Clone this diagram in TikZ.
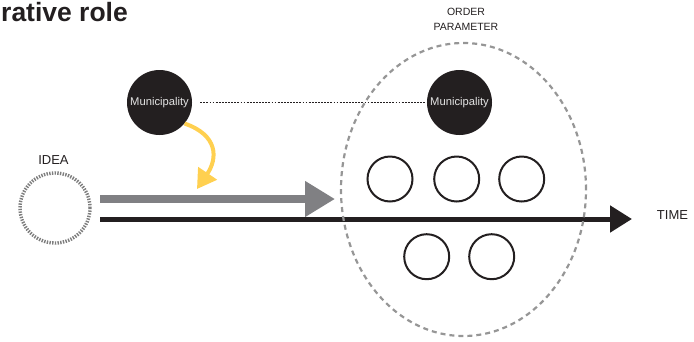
\documentclass[tikz,border=0pt]{standalone}
\usepackage{fontspec}
\setmainfont{Liberation Sans}
\usetikzlibrary{arrows.meta,shapes.geometric}
\definecolor{ink}{RGB}{35,31,32}
\definecolor{arrowgray}{RGB}{128,128,131}
\definecolor{dashgray}{RGB}{150,150,150}
\definecolor{ideagray}{RGB}{125,125,125}
\definecolor{gold}{RGB}{255,208,80}
\definecolor{labelwhite}{RGB}{228,228,228}
\begin{document}
\begin{tikzpicture}[x=1pt,y=-1pt,
  lbl/.style={font=\fontsize{13}{15}\selectfont, text=ink, inner sep=0},
  oplbl/.style={font=\fontsize{10.5}{12}\selectfont, text=ink, inner sep=0, anchor=base},
  muni/.style={circle, fill=ink, minimum size=65pt, inner sep=0, text=labelwhite, font=\fontsize{11.2}{12}\selectfont},
  member/.style={circle, draw=ink, line width=2pt, minimum size=45pt, inner sep=0},
  dotline/.style={draw=ink, line width=0.9pt, dash pattern=on 1.8pt off 1.3pt},
]
\useasboundingbox (0,0) rectangle (694,341);

% title
\node[anchor=base west, inner sep=0, font=\bfseries\fontsize{26.5}{30}\selectfont, text=ink] (title) at (1,21.5) {rative role};

% idea
\node[lbl, anchor=base] (idealbl) at (53.5,164) {IDEA};
\node[circle, draw=ideagray, line width=3.4pt, dash pattern=on 1.4pt off 1.3pt, minimum size=70pt, inner sep=0] (idea) at (55,208) {};

% arrows
\coordinate (gstart) at (100,199);
\coordinate (gend) at (335,199);
\draw[arrowgray, line width=7.5pt, -{Triangle[length=30pt,width=34pt]}] (gstart) -- (gend);

\coordinate (tstart) at (100,219);
\coordinate (tend) at (632,219);
\draw[ink, line width=5pt, -{Triangle[length=22pt,width=26pt]}] (tstart) -- (tend);
\node[lbl, anchor=base] (time) at (672.5,219.3) {TIME};

% order parameter
\node[ellipse, draw=dashgray, line width=2.2pt, dash pattern=on 5pt off 4pt, minimum width=245pt, minimum height=293pt, inner sep=0] (op) at (463.5,189.5) {};
\node[oplbl] (order) at (466,15) {ORDER};
\node[oplbl] (param) at (466,30) {PARAMETER};

% members
\node[member] (c1) at (390,179) {};
\node[member] (c2) at (456.7,179) {};
\node[member] (c3) at (521.7,179) {};
\node[member] (c4) at (426.7,256.7) {};
\node[member] (c5) at (491.7,256.7) {};

% municipalities
\node[muni] (m1) at (159.5,102.5) {Municipality};
\node[muni] (m2) at (459.5,102.5) {Municipality};
\draw[dotline, shorten <=8pt] (m1.east) -- (m2.west);

% yellow arrow
\draw[gold, line width=4pt, -{Triangle[length=19pt,width=22pt]}] (m1.-40) .. controls (218,135) and (218,158) .. (197,189);
\end{tikzpicture}
\end{document}
